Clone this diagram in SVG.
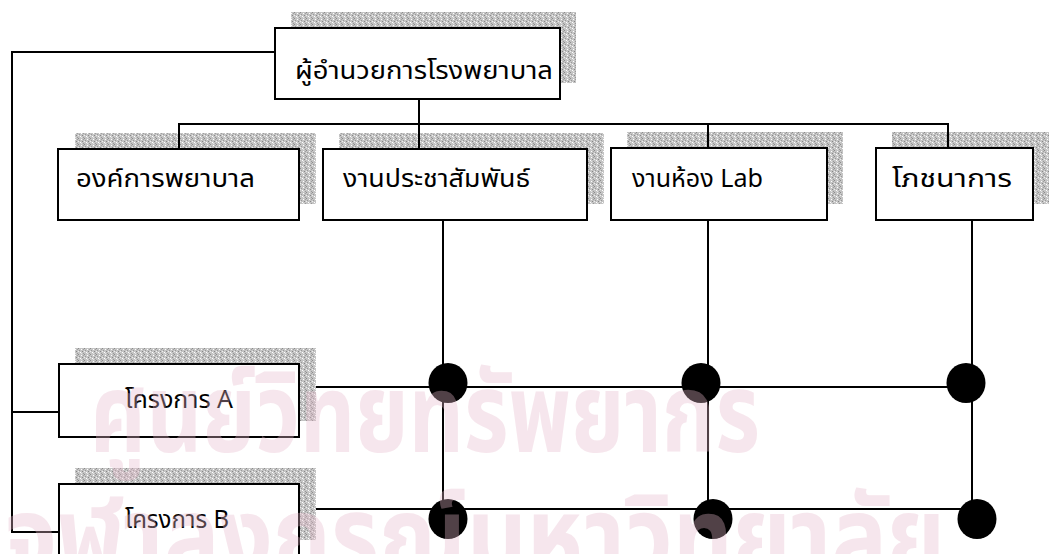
<svg xmlns="http://www.w3.org/2000/svg" width="1051" height="554" viewBox="0 0 1051 554">
<style>
.box{fill:#fff;stroke:#000;stroke-width:2}
.sh{fill:url(#noise)}
.ln{stroke:#000;stroke-width:2;fill:none}
.dot{fill:#000}
.t{font-family:"Noto Sans Thai","Noto Sans","DejaVu Sans",sans-serif;font-size:25px;fill:#000}
.wm{font-family:"Noto Sans Thai","Noto Sans","DejaVu Sans",sans-serif;font-weight:bold;fill:#e8b9cc;opacity:0.35}
</style>
<defs>
<pattern id="noise" width="6" height="6" patternUnits="userSpaceOnUse">
<rect width="6" height="6" fill="#c4c4c4"/>
<rect x="0" y="0" width="1" height="1" fill="#8c8c8c"/>
<rect x="3" y="1" width="1" height="1" fill="#ffffff"/>
<rect x="1" y="2" width="1" height="1" fill="#9a9a9a"/>
<rect x="4" y="3" width="1" height="1" fill="#888"/>
<rect x="2" y="4" width="1" height="1" fill="#fff"/>
<rect x="5" y="5" width="1" height="1" fill="#999"/>
<rect x="0" y="3" width="1" height="1" fill="#eee"/>
<rect x="5" y="1" width="1" height="1" fill="#a0a0a0"/>
<rect x="3" y="5" width="1" height="1" fill="#e6e6e6"/>
</pattern>
</defs>
<rect width="1051" height="554" fill="#fff"/>
<g id="shadows">
<rect class="sh" x="291" y="12" width="285" height="71"/>
<rect class="sh" x="75" y="133" width="241" height="71"/>
<rect class="sh" x="339" y="133" width="265" height="71"/>
<rect class="sh" x="627" y="132" width="216" height="72"/>
<rect class="sh" x="892" y="132" width="157" height="72"/>
<rect class="sh" x="75" y="348" width="241" height="73"/>
<rect class="sh" x="75" y="468" width="241" height="72"/>
</g>
<g id="connectors">
<polyline class="ln" points="275,52 12,52 12,532 59,532"/>
<line class="ln" x1="12" y1="412" x2="59" y2="412"/>
<line class="ln" x1="178" y1="124" x2="949" y2="124"/>
<line class="ln" x1="179" y1="124" x2="179" y2="149"/>
<line class="ln" x1="419" y1="99" x2="419" y2="149"/>
<line class="ln" x1="708" y1="124" x2="708" y2="148"/>
<line class="ln" x1="948" y1="124" x2="948" y2="148"/>
<line class="ln" x1="443" y1="220" x2="443" y2="515"/>
<line class="ln" x1="708" y1="220" x2="708" y2="515"/>
<line class="ln" x1="972" y1="220" x2="972" y2="518"/>
<line class="ln" x1="316" y1="387" x2="966" y2="387"/>
<line class="ln" x1="316" y1="509" x2="977" y2="509"/>
</g>
<g id="n-director"><rect class="box" x="275" y="28" width="285" height="71"/><text class="t" x="295" y="79" textLength="258" lengthAdjust="spacingAndGlyphs">ผู้อำนวยการโรงพยาบาล</text></g>
<g id="n-nursing"><rect class="box" x="58" y="149" width="241" height="71"/><text class="t" x="76" y="187" textLength="179" lengthAdjust="spacingAndGlyphs">องค์การพยาบาล</text></g>
<g id="n-pr"><rect class="box" x="323" y="149" width="264" height="71"/><text class="t" x="343" y="187" textLength="187" lengthAdjust="spacingAndGlyphs">งานประชาสัมพันธ์</text></g>
<g id="n-lab"><rect class="box" x="611" y="148" width="216" height="72"/><text class="t" x="632" y="187" textLength="131" lengthAdjust="spacingAndGlyphs">งานห้อง Lab</text></g>
<g id="n-food"><rect class="box" x="876" y="148" width="157" height="72"/><text class="t" x="892" y="187" textLength="120" lengthAdjust="spacingAndGlyphs">โภชนาการ</text></g>
<g id="n-projA"><rect class="box" x="59" y="364" width="240" height="73"/><text class="t" x="125" y="408" textLength="108" lengthAdjust="spacingAndGlyphs">โครงการ A</text></g>
<g id="n-projB"><rect class="box" x="59" y="484" width="240" height="80"/><text class="t" x="125" y="528" textLength="104" lengthAdjust="spacingAndGlyphs">โครงการ B</text></g>
<g id="dots">
<ellipse class="dot" cx="448" cy="383" rx="19.5" ry="20"/>
<ellipse class="dot" cx="701" cy="383" rx="19.5" ry="20"/>
<ellipse class="dot" cx="966" cy="383" rx="19.5" ry="20"/>
<ellipse class="dot" cx="448" cy="519" rx="19.5" ry="20"/>
<ellipse class="dot" cx="713" cy="519" rx="19.5" ry="20"/>
<ellipse class="dot" cx="977" cy="519" rx="19.5" ry="20"/>
</g>
<g id="watermark">
<text class="wm" x="90" y="452" font-size="110" textLength="670" lengthAdjust="spacingAndGlyphs">ศูนย์วิทยทรัพยากร</text>
<text class="wm" x="5" y="575" font-size="110" textLength="940" lengthAdjust="spacingAndGlyphs">จุฬาลงกรณ์มหาวิทยาลัย</text>
</g>
</svg>
